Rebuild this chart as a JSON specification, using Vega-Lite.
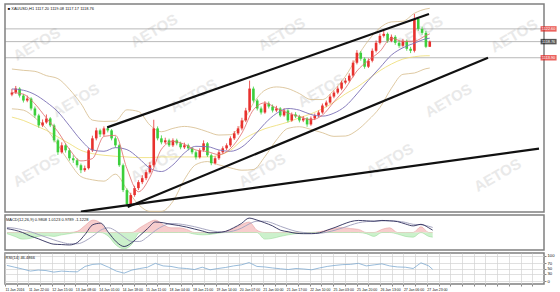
{
 "$schema": "https://vega.github.io/schema/vega-lite/v6.json",
 "background": "white",
 "padding": {"left": 3, "top": 3, "right": 0, "bottom": 0},
 "spacing": 1,
 "config": {
  "view": {"stroke": "#808080", "strokeWidth": 1.5},
  "axis": {"labelFont": "Liberation Sans", "labelFontSize": 4.2, "labelColor": "#111", "gridColor": "#d3d3d3", "gridWidth": 0.7, "domain": false, "tickColor": "#888", "tickSize": 2, "labelPadding": 1, "title": null},
  "title": {"font": "Liberation Sans", "fontSize": 4, "fontWeight": "normal", "color": "#111", "anchor": "start", "offset": -7}
 },
 "datasets": {
  "px": [
   {"i":0,"o":1102.8,"h":1104.5,"l":1102.3,"c":1103.4},{"i":1,"o":1103.4,"h":1105.4,"l":1103.0,"c":1104.6},{"i":2,"o":1104.6,"h":1105.0,"l":1101.9,"c":1102.5},{"i":3,"o":1102.5,"h":1103.0,"l":1100.4,"c":1101.0},{"i":4,"o":1101.0,"h":1102.5,"l":1100.5,"c":1101.6},{"i":5,"o":1101.6,"h":1102.0,"l":1098.0,"c":1098.6},{"i":6,"o":1098.6,"h":1099.2,"l":1095.8,"c":1096.5},{"i":7,"o":1096.5,"h":1097.0,"l":1092.8,"c":1093.5},{"i":8,"o":1093.5,"h":1095.3,"l":1093.0,"c":1094.4},{"i":9,"o":1094.4,"h":1096.8,"l":1094.0,"c":1095.6},
   {"i":10,"o":1095.6,"h":1096.0,"l":1093.0,"c":1093.5},{"i":11,"o":1093.5,"h":1094.0,"l":1088.4,"c":1089.0},{"i":12,"o":1089.0,"h":1089.5,"l":1084.6,"c":1085.4},{"i":13,"o":1085.4,"h":1088.4,"l":1085.0,"c":1087.5},{"i":14,"o":1087.5,"h":1088.0,"l":1085.3,"c":1086.0},{"i":15,"o":1086.0,"h":1086.6,"l":1082.9,"c":1083.6},{"i":16,"o":1083.6,"h":1084.5,"l":1082.2,"c":1083.0},{"i":17,"o":1083.0,"h":1083.6,"l":1080.8,"c":1081.5},{"i":18,"o":1081.5,"h":1082.0,"l":1079.1,"c":1080.0},{"i":19,"o":1080.0,"h":1081.4,"l":1079.5,"c":1080.6},
   {"i":20,"o":1080.6,"h":1086.6,"l":1080.2,"c":1086.0},{"i":21,"o":1086.0,"h":1090.4,"l":1085.5,"c":1089.6},{"i":22,"o":1089.6,"h":1092.8,"l":1089.0,"c":1092.0},{"i":23,"o":1092.0,"h":1092.5,"l":1090.0,"c":1090.8},{"i":24,"o":1090.8,"h":1093.2,"l":1090.3,"c":1092.6},{"i":25,"o":1092.6,"h":1093.0,"l":1091.4,"c":1092.0},{"i":26,"o":1092.0,"h":1092.4,"l":1089.0,"c":1089.6},{"i":27,"o":1089.6,"h":1090.2,"l":1086.8,"c":1087.5},{"i":28,"o":1087.5,"h":1088.0,"l":1081.0,"c":1081.5},{"i":29,"o":1081.5,"h":1082.0,"l":1073.4,"c":1074.0},
   {"i":30,"o":1074.0,"h":1074.5,"l":1069.0,"c":1069.8},{"i":31,"o":1069.8,"h":1073.2,"l":1069.4,"c":1072.5},{"i":32,"o":1072.5,"h":1075.3,"l":1072.0,"c":1074.6},{"i":33,"o":1074.6,"h":1077.0,"l":1074.0,"c":1076.4},{"i":34,"o":1076.4,"h":1078.5,"l":1075.8,"c":1077.6},{"i":35,"o":1077.6,"h":1080.0,"l":1077.0,"c":1079.4},{"i":36,"o":1079.4,"h":1082.4,"l":1079.0,"c":1081.5},{"i":37,"o":1081.5,"h":1095.2,"l":1081.0,"c":1092.6},{"i":38,"o":1092.6,"h":1093.2,"l":1089.0,"c":1089.6},{"i":39,"o":1089.6,"h":1090.5,"l":1087.8,"c":1088.4},
   {"i":40,"o":1088.4,"h":1089.8,"l":1087.9,"c":1089.0},{"i":41,"o":1089.0,"h":1089.5,"l":1087.0,"c":1087.5},{"i":42,"o":1087.5,"h":1089.6,"l":1087.0,"c":1089.0},{"i":43,"o":1089.0,"h":1089.5,"l":1087.5,"c":1088.1},{"i":44,"o":1088.1,"h":1088.6,"l":1086.3,"c":1086.9},{"i":45,"o":1086.9,"h":1088.3,"l":1086.4,"c":1087.5},{"i":46,"o":1087.5,"h":1088.0,"l":1086.0,"c":1086.6},{"i":47,"o":1086.6,"h":1087.0,"l":1084.8,"c":1085.4},{"i":48,"o":1085.4,"h":1085.9,"l":1083.2,"c":1083.9},{"i":49,"o":1083.9,"h":1086.6,"l":1083.5,"c":1086.0},
   {"i":50,"o":1086.0,"h":1089.0,"l":1085.6,"c":1088.1},{"i":51,"o":1088.1,"h":1088.5,"l":1084.0,"c":1084.5},{"i":52,"o":1084.5,"h":1085.0,"l":1081.5,"c":1082.1},{"i":53,"o":1082.1,"h":1084.2,"l":1081.7,"c":1083.6},{"i":54,"o":1083.6,"h":1086.0,"l":1083.1,"c":1085.4},{"i":55,"o":1085.4,"h":1087.2,"l":1085.0,"c":1086.6},{"i":56,"o":1086.6,"h":1088.1,"l":1086.1,"c":1087.5},{"i":57,"o":1087.5,"h":1090.2,"l":1087.0,"c":1089.6},{"i":58,"o":1089.6,"h":1091.8,"l":1089.1,"c":1091.1},{"i":59,"o":1091.1,"h":1093.3,"l":1090.6,"c":1092.6},
   {"i":60,"o":1092.6,"h":1095.8,"l":1092.0,"c":1095.0},{"i":61,"o":1095.0,"h":1098.8,"l":1094.5,"c":1098.0},{"i":62,"o":1098.0,"h":1107.0,"l":1097.5,"c":1104.6},{"i":63,"o":1104.6,"h":1105.2,"l":1100.4,"c":1101.0},{"i":64,"o":1101.0,"h":1101.5,"l":1098.0,"c":1098.6},{"i":65,"o":1098.6,"h":1099.2,"l":1096.8,"c":1097.4},{"i":66,"o":1097.4,"h":1100.8,"l":1097.0,"c":1100.1},{"i":67,"o":1100.1,"h":1100.7,"l":1098.6,"c":1099.2},{"i":68,"o":1099.2,"h":1099.8,"l":1097.4,"c":1098.0},{"i":69,"o":1098.0,"h":1099.4,"l":1097.5,"c":1098.6},
   {"i":70,"o":1098.6,"h":1099.0,"l":1096.0,"c":1096.5},{"i":71,"o":1096.5,"h":1098.7,"l":1096.1,"c":1098.0},{"i":72,"o":1098.0,"h":1098.4,"l":1094.4,"c":1095.0},{"i":73,"o":1095.0,"h":1097.4,"l":1094.6,"c":1096.8},{"i":74,"o":1096.8,"h":1097.5,"l":1095.7,"c":1096.2},{"i":75,"o":1096.2,"h":1096.7,"l":1094.4,"c":1095.0},{"i":76,"o":1095.0,"h":1096.3,"l":1094.5,"c":1095.6},{"i":77,"o":1095.6,"h":1096.0,"l":1093.1,"c":1093.8},{"i":78,"o":1093.8,"h":1096.2,"l":1093.4,"c":1095.6},{"i":79,"o":1095.6,"h":1097.1,"l":1095.1,"c":1096.5},
   {"i":80,"o":1096.5,"h":1098.0,"l":1096.0,"c":1097.4},{"i":81,"o":1097.4,"h":1100.1,"l":1097.0,"c":1099.5},{"i":82,"o":1099.5,"h":1101.0,"l":1099.0,"c":1100.4},{"i":83,"o":1100.4,"h":1102.9,"l":1100.0,"c":1102.2},{"i":84,"o":1102.2,"h":1104.0,"l":1101.7,"c":1103.4},{"i":85,"o":1103.4,"h":1105.3,"l":1102.9,"c":1104.6},{"i":86,"o":1104.6,"h":1107.0,"l":1104.1,"c":1106.4},{"i":87,"o":1106.4,"h":1107.8,"l":1105.9,"c":1107.0},{"i":88,"o":1107.0,"h":1109.2,"l":1106.5,"c":1108.5},{"i":89,"o":1108.5,"h":1113.1,"l":1108.0,"c":1112.4},
   {"i":90,"o":1112.4,"h":1116.2,"l":1111.9,"c":1115.4},{"i":91,"o":1115.4,"h":1115.9,"l":1113.0,"c":1113.6},{"i":92,"o":1113.6,"h":1114.0,"l":1110.6,"c":1111.2},{"i":93,"o":1111.2,"h":1113.7,"l":1110.8,"c":1113.0},{"i":94,"o":1113.0,"h":1116.7,"l":1112.5,"c":1116.0},{"i":95,"o":1116.0,"h":1119.1,"l":1115.5,"c":1118.4},{"i":96,"o":1118.4,"h":1121.2,"l":1117.9,"c":1120.5},{"i":97,"o":1120.5,"h":1122.0,"l":1120.0,"c":1121.1},{"i":98,"o":1121.1,"h":1121.5,"l":1118.4,"c":1119.0},{"i":99,"o":1119.0,"h":1120.9,"l":1118.6,"c":1120.2},
   {"i":100,"o":1120.2,"h":1120.7,"l":1117.8,"c":1118.4},{"i":101,"o":1118.4,"h":1119.0,"l":1116.9,"c":1117.5},{"i":102,"o":1117.5,"h":1119.6,"l":1117.0,"c":1119.0},{"i":103,"o":1119.0,"h":1119.4,"l":1116.0,"c":1116.6},{"i":104,"o":1116.6,"h":1117.2,"l":1115.3,"c":1116.0},{"i":105,"o":1116.0,"h":1127.1,"l":1115.5,"c":1125.6},{"i":106,"o":1125.6,"h":1126.2,"l":1122.0,"c":1122.6},{"i":107,"o":1122.6,"h":1123.3,"l":1120.8,"c":1121.4},{"i":108,"o":1121.4,"h":1122.0,"l":1116.8,"c":1117.2},{"i":109,"o":1117.2,"h":1119.08,"l":1117.17,"c":1118.76}
  ],
  "ind": [
   {"i":0,"f":1103.4,"s":1104.5,"bu":1110.5,"bl":1098.5,"yl":1096},
   {"i":3,"f":1102.9,"s":1104.1,"bu":1110.1,"bl":1098.1,"yl":1095},
   {"i":6,"f":1100.0,"s":1102.8,"bu":1109.8,"bl":1095.8,"yl":1093.5},
   {"i":9,"f":1095.7,"s":1100.5,"bu":1108.5,"bl":1092.5,"yl":1092},
   {"i":12,"f":1091.6,"s":1097.6,"bu":1107.6,"bl":1087.6,"yl":1090},
   {"i":15,"f":1086.3,"s":1093.4,"bu":1104.4,"bl":1082.4,"yl":1088},
   {"i":18,"f":1082.8,"s":1089.1,"bu":1100.1,"bl":1078.1,"yl":1086},
   {"i":21,"f":1083.5,"s":1086.1,"bu":1095.1,"bl":1077.1,"yl":1085},
   {"i":24,"f":1090.2,"s":1085.7,"bu":1094.7,"bl":1076.7,"yl":1084.5},
   {"i":27,"f":1090.5,"s":1086.8,"bu":1094.8,"bl":1078.8,"yl":1084.2},
   {"i":30,"f":1080.5,"s":1086.2,"bu":1098.2,"bl":1074.2,"yl":1084},
   {"i":33,"f":1073.5,"s":1083.7,"bu":1097.7,"bl":1069.7,"yl":1083.8},
   {"i":36,"f":1077.9,"s":1080.6,"bu":1093.6,"bl":1067.6,"yl":1083.8},
   {"i":39,"f":1086.3,"s":1079.6,"bu":1091.6,"bl":1067.6,"yl":1084},
   {"i":42,"f":1088.7,"s":1081.6,"bu":1092.6,"bl":1070.6,"yl":1084},
   {"i":45,"f":1087.8,"s":1085.2,"bu":1093.2,"bl":1077.2,"yl":1084},
   {"i":48,"f":1086.1,"s":1087.2,"bu":1092.7,"bl":1081.7,"yl":1084},
   {"i":51,"f":1085.6,"s":1087.1,"bu":1091.6,"bl":1082.6,"yl":1084},
   {"i":54,"f":1084.7,"s":1086.1,"bu":1090.6,"bl":1081.6,"yl":1084.5},
   {"i":57,"f":1086.5,"s":1085.7,"bu":1090.7,"bl":1080.7,"yl":1086},
   {"i":60,"f":1091.2,"s":1087.0,"bu":1094.0,"bl":1080.0,"yl":1089},
   {"i":63,"f":1098.2,"s":1090.2,"bu":1100.2,"bl":1080.2,"yl":1091},
   {"i":66,"f":1100.3,"s":1094.1,"bu":1104.1,"bl":1084.1,"yl":1092.5},
   {"i":69,"f":1098.7,"s":1097.1,"bu":1105.1,"bl":1089.1,"yl":1093.5},
   {"i":72,"f":1097.2,"s":1098.6,"bu":1104.6,"bl":1092.6,"yl":1094.5},
   {"i":75,"f":1096.2,"s":1098.1,"bu":1103.1,"bl":1093.1,"yl":1095.8},
   {"i":78,"f":1095.2,"s":1096.8,"bu":1101.3,"bl":1092.3,"yl":1097},
   {"i":81,"f":1096.6,"s":1096.3,"bu":1101.3,"bl":1091.3,"yl":1098.5},
   {"i":84,"f":1100.6,"s":1097.2,"bu":1104.2,"bl":1090.2,"yl":1100.5},
   {"i":87,"f":1104.7,"s":1099.3,"bu":1108.3,"bl":1090.3,"yl":1103},
   {"i":90,"f":1109.9,"s":1103.0,"bu":1114.0,"bl":1092.0,"yl":1105},
   {"i":93,"f":1113.1,"s":1107.1,"bu":1119.1,"bl":1095.1,"yl":1107.5},
   {"i":96,"f":1115.8,"s":1110.9,"bu":1122.9,"bl":1098.9,"yl":1110},
   {"i":99,"f":1119.8,"s":1114.7,"bu":1124.7,"bl":1104.7,"yl":1112},
   {"i":102,"f":1118.8,"s":1116.9,"bu":1124.9,"bl":1108.9,"yl":1113.5},
   {"i":105,"f":1118.9,"s":1118.3,"bu":1127.3,"bl":1109.3,"yl":1114.2},
   {"i":108,"f":1120.6,"s":1119.6,"bu":1128.6,"bl":1110.6,"yl":1114.5},
   {"i":109,"f":1121.1,"s":1119.8,"bu":1128.8,"bl":1110.8,"yl":1114.5}
  ],
  "osc": [
   {"i":0,"m":1.0,"sg":1.3,"hp":0,"hn":-0.3,"r":62},{"i":2,"m":0.6,"sg":1.1,"hp":0,"hn":-1.0,"r":55},{"i":4,"m":0.0,"sg":0.7,"hp":0,"hn":-1.7,"r":48},{"i":6,"m":-0.9,"sg":0.2,"hp":0,"hn":-1.5,"r":40},{"i":8,"m":-1.6,"sg":-0.5,"hp":0,"hn":-1.0,"r":44},
   {"i":10,"m":-2.4,"sg":-1.2,"hp":0,"hn":-0.8,"r":42},{"i":12,"m":-3.0,"sg":-1.9,"hp":0,"hn":-1.0,"r":36},{"i":14,"m":-3.1,"sg":-2.5,"hp":0,"hn":-0.6,"r":40},{"i":16,"m":-3.2,"sg":-2.9,"hp":0,"hn":-0.3,"r":38},{"i":18,"m":-2.6,"sg":-2.9,"hp":0.3,"hn":0,"r":37},
   {"i":20,"m":-0.5,"sg":-2.2,"hp":1.8,"hn":0,"r":58},{"i":22,"m":2.0,"sg":-0.9,"hp":3.2,"hn":0,"r":66},{"i":24,"m":2.4,"sg":0.6,"hp":2.4,"hn":0,"r":68},{"i":26,"m":0.0,"sg":1.2,"hp":0,"hn":-1.0,"r":55},{"i":28,"m":-2.4,"sg":0.3,"hp":0,"hn":-3.3,"r":40},
   {"i":30,"m":-3.6,"sg":-1.2,"hp":0,"hn":-4.2,"r":32},{"i":32,"m":-2.6,"sg":-2.3,"hp":0,"hn":-3.0,"r":44},{"i":34,"m":-0.8,"sg":-2.3,"hp":1.2,"hn":0,"r":50},{"i":36,"m":1.0,"sg":-1.1,"hp":2.4,"hn":0,"r":55},{"i":38,"m":2.7,"sg":0.5,"hp":3.2,"hn":0,"r":70},
   {"i":40,"m":2.5,"sg":1.7,"hp":2.0,"hn":0,"r":60},{"i":42,"m":2.1,"sg":2.3,"hp":1.2,"hn":0,"r":58},{"i":44,"m":1.8,"sg":2.2,"hp":1.2,"hn":0,"r":52},{"i":46,"m":1.4,"sg":1.9,"hp":0.8,"hn":0,"r":50},{"i":48,"m":0.9,"sg":1.5,"hp":0,"hn":-0.4,"r":46},
   {"i":50,"m":0.4,"sg":1.0,"hp":0,"hn":-0.6,"r":55},{"i":52,"m":-0.1,"sg":0.5,"hp":0,"hn":-0.5,"r":45},{"i":54,"m":0.0,"sg":0.2,"hp":0,"hn":-0.2,"r":50},{"i":56,"m":0.3,"sg":0.1,"hp":0.3,"hn":0,"r":54},{"i":58,"m":1.2,"sg":0.4,"hp":1.0,"hn":0,"r":60},
   {"i":60,"m":2.3,"sg":1.1,"hp":2.0,"hn":0,"r":64},{"i":62,"m":3.7,"sg":2.2,"hp":2.7,"hn":0,"r":73},{"i":64,"m":3.2,"sg":2.9,"hp":0.6,"hn":0,"r":58},{"i":66,"m":2.5,"sg":2.9,"hp":0,"hn":-1.7,"r":56},{"i":68,"m":1.7,"sg":2.4,"hp":0,"hn":-1.5,"r":52},
   {"i":70,"m":0.6,"sg":1.6,"hp":0,"hn":-1.0,"r":49},{"i":72,"m":0.2,"sg":0.9,"hp":0,"hn":-0.6,"r":46},{"i":74,"m":-0.2,"sg":0.3,"hp":0,"hn":-0.3,"r":50},{"i":76,"m":-0.3,"sg":0.0,"hp":0,"hn":-0.2,"r":48},{"i":78,"m":-0.3,"sg":-0.2,"hp":0,"hn":-0.1,"r":45},
   {"i":80,"m":-0.1,"sg":-0.2,"hp":0.2,"hn":0,"r":52},{"i":82,"m":0.6,"sg":0.1,"hp":0.6,"hn":0,"r":58},{"i":84,"m":1.3,"sg":0.6,"hp":1.1,"hn":0,"r":62},{"i":86,"m":2.1,"sg":1.2,"hp":1.3,"hn":0,"r":65},{"i":88,"m":2.8,"sg":1.9,"hp":1.0,"hn":0,"r":66},
   {"i":90,"m":3.1,"sg":2.5,"hp":0.8,"hn":0,"r":70},{"i":92,"m":3.0,"sg":2.8,"hp":0,"hn":-0.3,"r":60},{"i":94,"m":2.9,"sg":2.9,"hp":0,"hn":-1.0,"r":64},{"i":96,"m":3.1,"sg":3.0,"hp":0.8,"hn":0,"r":68},{"i":98,"m":3.0,"sg":3.0,"hp":1.2,"hn":0,"r":60},
   {"i":100,"m":2.8,"sg":2.9,"hp":0,"hn":-0.4,"r":56},{"i":102,"m":2.2,"sg":2.6,"hp":0,"hn":-1.0,"r":55},{"i":104,"m":1.7,"sg":2.1,"hp":0,"hn":-1.2,"r":50},{"i":106,"m":2.1,"sg":2.0,"hp":1.5,"hn":0,"r":72},{"i":108,"m":1.2,"sg":1.6,"hp":0,"hn":-1.0,"r":60},{"i":109,"m":0.6,"sg":1.3,"hp":0,"hn":-1.2,"r":46.5}
  ],
  "tl": [
   {"g":"A","i":24.85,"p":1092.9},{"g":"A","i":108.8,"p":1127.1},
   {"g":"B","i":30.2,"p":1068.9},{"g":"B","i":124.2,"p":1113.9},
   {"g":"C","i":18,"p":1067.5},{"g":"C","i":137.5,"p":1086.5}
  ],
  "hl": [
   {"p":1122.6,"k":"r"},{"p":1118.76,"k":"b"},{"p":1113.9,"k":"r"}
  ],
  "wm": [
   {"i":6.5,"p":1118.0},{"i":37.1,"p":1122.0},{"i":70.4,"p":1121.0},{"i":106.3,"p":1121.5},{"i":131.0,"p":1120.5},
   {"i":16.7,"p":1101.0},{"i":47.4,"p":1102.5},{"i":80.7,"p":1104.0},{"i":113.9,"p":1101.0},
   {"i":6.4,"p":1080.0},{"i":37.1,"p":1081.5},{"i":65.3,"p":1080.0},{"i":98.6,"p":1083.0},{"i":126.7,"p":1078.5}
  ]
 },
 "vconcat": [
  {
   "width": 539,
   "height": 208,
   "title": {"text": "■ XAUUSD,H1  1117.20 1119.08 1117.17 1118.76", "dx": 3},
   "layer": [
    {
     "data": {"name": "wm"},
     "mark": {"type": "text", "text": "AETOS", "angle": 330, "fontSize": 15, "fontWeight": "bold", "font": "Liberation Sans", "color": "#e9e9e9", "clip": true},
     "encoding": {
      "x": {"field": "i", "type": "quantitative", "scale": {"domain": [-0.5, 137.5], "nice": false, "zero": false}, "axis": null},
      "y": {"field": "p", "type": "quantitative", "scale": {"domain": [1067.4, 1130.1], "nice": false, "zero": false}, "axis": null}
     }
    },
    {
     "data": {"name": "hl"},
     "mark": {"type": "rule", "strokeWidth": 0.6, "color": "#8a8a8a"},
     "encoding": {
      "y": {"field": "p", "type": "quantitative", "scale": {"domain": [1067.4, 1130.1], "nice": false, "zero": false}, "axis": null}
     }
    },
    {
     "data": {"name": "ind"},
     "mark": {"type": "line", "strokeWidth": 0.8, "interpolate": "monotone", "color": "#eedc6e"},
     "encoding": {
      "x": {"field": "i", "type": "quantitative", "scale": {"domain": [-0.5, 137.5], "nice": false, "zero": false}, "axis": null},
      "y": {"field": "yl", "type": "quantitative", "scale": {"domain": [1067.4, 1130.1], "nice": false, "zero": false}, "axis": null}
     }
    },
    {
     "data": {"name": "ind"},
     "mark": {"type": "line", "strokeWidth": 0.8, "interpolate": "monotone", "color": "#d6bb8a"},
     "encoding": {
      "x": {"field": "i", "type": "quantitative", "scale": {"domain": [-0.5, 137.5], "nice": false, "zero": false}, "axis": null},
      "y": {"field": "bu", "type": "quantitative", "scale": {"domain": [1067.4, 1130.1], "nice": false, "zero": false}, "axis": null}
     }
    },
    {
     "data": {"name": "ind"},
     "mark": {"type": "line", "strokeWidth": 0.8, "interpolate": "monotone", "color": "#d6bb8a", "clip": true},
     "encoding": {
      "x": {"field": "i", "type": "quantitative", "scale": {"domain": [-0.5, 137.5], "nice": false, "zero": false}, "axis": null},
      "y": {"field": "bl", "type": "quantitative", "scale": {"domain": [1067.4, 1130.1], "nice": false, "zero": false}, "axis": null}
     }
    },
    {
     "data": {"name": "px"},
     "mark": {"type": "rule", "strokeWidth": 0.8},
     "encoding": {
      "x": {"field": "i", "type": "quantitative", "scale": {"domain": [-0.5, 137.5], "nice": false, "zero": false},
            "axis": {"values": [-0.5,2.5,5.5,8.5,11.5,14.5,17.5,20.5,23.5,26.5,29.5,32.5,35.5,38.5,41.5,44.5,47.5,50.5,53.5,56.5,59.5,62.5,65.5,68.5,71.5,74.5,77.5,80.5,83.5,86.5,89.5,92.5,95.5,98.5,101.5,104.5,107.5,110.5,113.5,116.5,119.5,122.5,125.5,128.5,131.5,134.5], "labels": false, "ticks": false, "domain": false, "grid": true}},
      "y": {"field": "l", "type": "quantitative", "scale": {"domain": [1067.4, 1130.1], "nice": false, "zero": false},
            "axis": {"orient": "right", "values": [1070,1073.4,1076.8,1080.2,1083.6,1087,1090.4,1093.8,1097.2,1100.6,1104,1107.4,1110.8,1114.2,1117.6,1121,1124.4,1127.8], "format": ".2f", "grid": true, "labelOverlap": false}},
      "y2": {"field": "h"},
      "color": {"condition": {"test": "datum.c >= datum.o", "value": "#e8312e"}, "value": "#3ccf3c"}
     }
    },
    {
     "data": {"name": "px"},
     "mark": {"type": "bar", "width": 2.6},
     "encoding": {
      "x": {"field": "i", "type": "quantitative", "scale": {"domain": [-0.5, 137.5], "nice": false, "zero": false}, "axis": null},
      "y": {"field": "o", "type": "quantitative", "scale": {"domain": [1067.4, 1130.1], "nice": false, "zero": false}, "axis": null},
      "y2": {"field": "c"},
      "color": {"condition": {"test": "datum.c >= datum.o", "value": "#e8312e"}, "value": "#3ccf3c"}
     }
    },
    {
     "data": {"name": "ind"},
     "mark": {"type": "line", "strokeWidth": 0.9, "interpolate": "monotone", "color": "#7a6fb5"},
     "encoding": {
      "x": {"field": "i", "type": "quantitative", "scale": {"domain": [-0.5, 137.5], "nice": false, "zero": false}, "axis": null},
      "y": {"field": "s", "type": "quantitative", "scale": {"domain": [1067.4, 1130.1], "nice": false, "zero": false}, "axis": null}
     }
    },
    {
     "data": {"name": "ind"},
     "mark": {"type": "line", "strokeWidth": 0.8, "interpolate": "monotone", "color": "#e06a6a"},
     "encoding": {
      "x": {"field": "i", "type": "quantitative", "scale": {"domain": [-0.5, 137.5], "nice": false, "zero": false}, "axis": null},
      "y": {"field": "f", "type": "quantitative", "scale": {"domain": [1067.4, 1130.1], "nice": false, "zero": false}, "axis": null}
     }
    },
    {
     "data": {"name": "tl"},
     "mark": {"type": "line", "strokeWidth": 2.2, "color": "#111111", "clip": true},
     "encoding": {
      "x": {"field": "i", "type": "quantitative", "scale": {"domain": [-0.5, 137.5], "nice": false, "zero": false}, "axis": null},
      "y": {"field": "p", "type": "quantitative", "scale": {"domain": [1067.4, 1130.1], "nice": false, "zero": false}, "axis": null},
      "detail": {"field": "g"}
     }
    },
    {
     "data": {"name": "hl"},
     "mark": {"type": "tick", "orient": "horizontal", "size": 16, "thickness": 5.5},
     "encoding": {
      "x": {"datum": 140.0, "type": "quantitative", "scale": {"domain": [-0.5, 137.5], "nice": false, "zero": false}, "axis": null},
      "y": {"field": "p", "type": "quantitative", "scale": {"domain": [1067.4, 1130.1], "nice": false, "zero": false}, "axis": null},
      "color": {"condition": {"test": "datum.k == 'r'", "value": "#e3211b"}, "value": "#111111"}
     }
    },
    {
     "data": {"name": "hl"},
     "mark": {"type": "text", "fontSize": 3.8, "font": "Liberation Sans", "color": "white", "align": "center", "baseline": "middle"},
     "encoding": {
      "x": {"datum": 140.0, "type": "quantitative", "scale": {"domain": [-0.5, 137.5], "nice": false, "zero": false}, "axis": null},
      "y": {"field": "p", "type": "quantitative", "scale": {"domain": [1067.4, 1130.1], "nice": false, "zero": false}, "axis": null},
      "text": {"field": "p", "type": "quantitative", "format": ".2f"}
     }
    }
   ]
  },
  {
   "width": 539,
   "height": 35,
   "title": {"text": "MACD(12,26,9) 0.9808 1.0123 0.9789 -1.1228", "dx": 1},
   "data": {"name": "osc"},
   "layer": [
    {
     "mark": {"type": "area", "color": "#f3b8b8", "interpolate": "monotone", "line": {"color": "#e39494", "strokeWidth": 0.5}},
     "encoding": {
      "x": {"field": "i", "type": "quantitative", "scale": {"domain": [-0.5, 137.5], "nice": false, "zero": false},
            "axis": {"values": [-0.5,2.5,5.5,8.5,11.5,14.5,17.5,20.5,23.5,26.5,29.5,32.5,35.5,38.5,41.5,44.5,47.5,50.5,53.5,56.5,59.5,62.5,65.5,68.5,71.5,74.5,77.5,80.5,83.5,86.5,89.5,92.5,95.5,98.5,101.5,104.5,107.5,110.5,113.5,116.5,119.5,122.5,125.5,128.5,131.5,134.5], "labels": false, "ticks": false, "domain": false, "grid": true}},
      "y": {"field": "hp", "type": "quantitative", "scale": {"domain": [-4.5, 4.5], "nice": false, "zero": false},
            "axis": {"orient": "right", "values": [4.2019, 0, -4.1256], "grid": false, "labelOverlap": false, "labelExpr": "datum.value == 0 ? '0.00' : format(datum.value, '.4f')"}}
     }
    },
    {
     "mark": {"type": "area", "color": "#b6ebb6", "interpolate": "monotone", "line": {"color": "#8fd88f", "strokeWidth": 0.5}},
     "encoding": {
      "x": {"field": "i", "type": "quantitative", "scale": {"domain": [-0.5, 137.5], "nice": false, "zero": false}, "axis": null},
      "y": {"field": "hn", "type": "quantitative", "scale": {"domain": [-4.5, 4.5], "nice": false, "zero": false}, "axis": null}
     }
    },
    {
     "mark": {"type": "line", "color": "#a8a8c2", "strokeWidth": 1, "interpolate": "monotone"},
     "encoding": {
      "x": {"field": "i", "type": "quantitative", "scale": {"domain": [-0.5, 137.5], "nice": false, "zero": false}, "axis": null},
      "y": {"field": "sg", "type": "quantitative", "scale": {"domain": [-4.5, 4.5], "nice": false, "zero": false}, "axis": null}
     }
    },
    {
     "mark": {"type": "line", "color": "#2c2c5a", "strokeWidth": 0.9, "interpolate": "monotone"},
     "encoding": {
      "x": {"field": "i", "type": "quantitative", "scale": {"domain": [-0.5, 137.5], "nice": false, "zero": false}, "axis": null},
      "y": {"field": "m", "type": "quantitative", "scale": {"domain": [-4.5, 4.5], "nice": false, "zero": false}, "axis": null}
     }
    }
   ]
  },
  {
   "width": 539,
   "height": 31,
   "title": {"text": "RSI(14) 46.4866", "dx": 1},
   "data": {"name": "osc"},
   "layer": [
    {
     "mark": {"type": "line", "color": "#7ea9d1", "strokeWidth": 0.8},
     "encoding": {
      "x": {"field": "i", "type": "quantitative", "scale": {"domain": [-0.5, 137.5], "nice": false, "zero": false},
            "axis": {"values": [-0.5,2.5,5.5,8.5,11.5,14.5,17.5,20.5,23.5,26.5,29.5,32.5,35.5,38.5,41.5,44.5,47.5,50.5,53.5,56.5,59.5,62.5,65.5,68.5,71.5,74.5,77.5,80.5,83.5,86.5,89.5,92.5,95.5,98.5,101.5,104.5,107.5,110.5,113.5,116.5,119.5,122.5,125.5,128.5,131.5,134.5], "grid": true, "labelAlign": "left", "labelOverlap": false, "labelFlush": false, "labelBound": false, "labelFontSize": 3.5, "labelPadding": 1.5,
                     "labelExpr": "(round((datum.value + 0.5) / 3) % 2 == 0) ? (['11 Jan 2016','11 Jan 22:00','12 Jan 15:00','13 Jan 08:00','14 Jan 01:00','14 Jan 18:00','15 Jan 11:00','18 Jan 04:00','18 Jan 21:00','19 Jan 14:00','20 Jan 07:00','21 Jan 00:00','21 Jan 17:00','22 Jan 10:00','25 Jan 03:00','25 Jan 20:00','26 Jan 13:00','27 Jan 06:00','27 Jan 23:00'][round((datum.value + 0.5) / 6)] || '') : ''"}},
      "y": {"field": "r", "type": "quantitative", "scale": {"domain": [-10, 110], "nice": false, "zero": false},
            "axis": {"orient": "right", "values": [100, 70, 50, 30, 0], "grid": true, "labelOverlap": false}}
     }
    }
   ]
  }
 ]
}
